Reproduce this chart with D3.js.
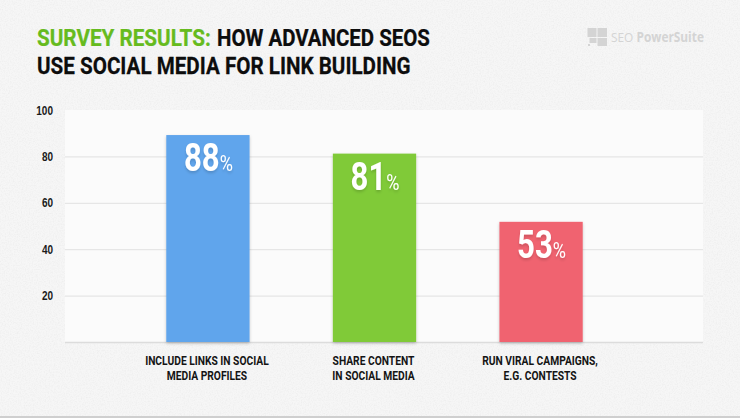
<!DOCTYPE html>
<html>
<head>
<meta charset="utf-8">
<script src="https://cdn.jsdelivr.net/npm/d3@7"></script>
<style>
    html, body { margin: 0; padding: 0; background: #f4f4f4; overflow: hidden; }
    svg { display: block; font-family: Roboto, sans-serif; }
    .y-axis text { font-size: 12.5px; font-weight: 700; fill: #1a1a1a; }
    .y-axis line { stroke: #e6e6e6; stroke-width: 1.2px; }
    .y-axis .domain { display: none; }
</style>
</head>
<body>
<script>
const categories = [
    ["INCLUDE LINKS IN SOCIAL", "MEDIA PROFILES"],
    ["SHARE CONTENT", "IN SOCIAL MEDIA"],
    ["RUN VIRAL CAMPAIGNS,", "E.G. CONTESTS"]
];
// bar heights as drawn in the picture differ slightly from the printed labels
const barValues = [89.2, 81.2, 51.8];
const valueLabels = ["88", "81", "53"];
const barColors = ["#60a5ec", "#80ca39", "#f06470"];
const yTicks = [20, 40, 60, 80, 100];

const width = 740;
const height = 418;
const plot = { left: 65, right: 703, top: 110, bottom: 342 };

const svg = d3.select("body").append("svg")
    .attr("width", width)
    .attr("height", height);

const defs = svg.append("defs");

// paper texture of the slide background
const paper = defs.append("filter").attr("id", "paper")
    .attr("x", 0).attr("y", 0).attr("width", "100%").attr("height", "100%");
paper.append("feTurbulence")
    .attr("type", "fractalNoise")
    .attr("baseFrequency", 0.75)
    .attr("numOctaves", 3)
    .attr("seed", 4);
paper.append("feColorMatrix")
    .attr("values", "0 0 0 0 0.7  0 0 0 0 0.7  0 0 0 0 0.7  0.6 0 0 0 -0.24");

const barShadow = defs.append("filter").attr("id", "bar-shadow")
    .attr("x", "-10%").attr("y", "-10%").attr("width", "120%").attr("height", "120%");
barShadow.append("feDropShadow")
    .attr("dx", 0).attr("dy", 1.5).attr("stdDeviation", 1.5)
    .attr("flood-color", "#000").attr("flood-opacity", 0.22);

const labelShadow = defs.append("filter").attr("id", "label-shadow")
    .attr("x", "-20%").attr("y", "-20%").attr("width", "140%").attr("height", "150%");
labelShadow.append("feDropShadow")
    .attr("dx", 0).attr("dy", 2).attr("stdDeviation", 1.5)
    .attr("flood-color", "#000").attr("flood-opacity", 0.16);

// Squeeze Roboto to look like the condensed face of the original
function condense(selection, factor) {
    selection.each(function () {
        const natural = this.getComputedTextLength();
        d3.select(this)
            .attr("textLength", natural * factor)
            .attr("lengthAdjust", "spacingAndGlyphs");
    });
}

svg.append("rect")
    .attr("width", width).attr("height", height)
    .attr("fill", "#f6f6f6");
svg.append("rect")
    .attr("width", width).attr("height", height)
    .attr("filter", "url(#paper)");

// bottom edge of the slide
svg.append("rect")
    .attr("x", 0).attr("y", 416)
    .attr("width", width).attr("height", 2)
    .attr("fill", "#cfcfcf");

// Title
const titleParts = [
    { text: "SURVEY RESULTS:", x: 37, y: 46, length: 174, color: "#66bb1e" },
    { text: "HOW ADVANCED SEOS", x: 217, y: 46, length: 213, color: "#0d0d0d" },
    { text: "USE SOCIAL MEDIA FOR LINK BUILDING", x: 37, y: 74, length: 374, color: "#0d0d0d" }
];
svg.append("g").selectAll("text")
    .data(titleParts)
    .join("text")
    .attr("fill", d => d.color)
    .attr("stroke", d => d.color)
    .attr("stroke-width", 0.25)
    .style("font-size", "24.5px")
    .style("font-weight", 700)
    .text(d => d.text)
    .attr("transform", function (d) {
        return `translate(${d.x},${d.y}) scale(${d.length / this.getComputedTextLength()},1)`;
    });

// Logo
const logo = svg.append("g").attr("fill", "#d4d4d4");
[[587.5, 28, 9, 9], [597.5, 28, 9.5, 9], [589.5, 38, 7, 5], [597.5, 38, 9.5, 8], [588, 44, 2, 2]]
    .forEach(r => logo.append("rect")
        .attr("x", r[0]).attr("y", r[1]).attr("width", r[2]).attr("height", r[3]));
const logoText = logo.append("text")
    .style("font-family", "'Open Sans', sans-serif")
    .style("font-size", "13.5px");
logoText.append("tspan").style("font-weight", 400).text("SEO ");
logoText.append("tspan").style("font-weight", 700).text("PowerSuite");
logoText.attr("transform", `translate(611,42) scale(${93 / logoText.node().getComputedTextLength()},1)`);

// Plot panel
svg.append("rect")
    .attr("x", plot.left).attr("y", plot.top)
    .attr("width", plot.right - plot.left).attr("height", plot.bottom - plot.top)
    .attr("fill", "#fbfbfb");
svg.append("line")
    .attr("x1", plot.left).attr("x2", plot.right)
    .attr("y1", plot.bottom + 0.5).attr("y2", plot.bottom + 0.5)
    .attr("stroke", "#dcdcdc").attr("stroke-width", 1.5);

const yScale = d3.scaleLinear().domain([0, 100]).range([plot.bottom, plot.top]);
const xScale = d3.scaleBand()
    .domain(d3.range(categories.length))
    .range([83, 666])
    .padding(0.5);

const yAxis = svg.append("g")
    .attr("class", "y-axis")
    .attr("transform", `translate(${plot.left},0)`)
    .call(d3.axisLeft(yScale)
        .tickValues(yTicks)
        .tickSize(-(plot.right - plot.left))
        .tickPadding(12));
yAxis.selectAll(".tick").filter(d => d === 100).select("line").remove();
yAxis.selectAll(".tick text").call(condense, 0.8);

// Bars
svg.append("g").selectAll("rect")
    .data(barValues)
    .join("rect")
    .attr("x", (d, i) => xScale(i))
    .attr("y", d => yScale(d))
    .attr("width", xScale.bandwidth())
    .attr("height", d => yScale(0) - yScale(d))
    .attr("fill", (d, i) => barColors[i])
    .attr("filter", "url(#bar-shadow)");

// Value labels inside the bars, number and percent sign in one text
const valueText = svg.append("g").selectAll("text")
    .data(barValues)
    .join("text")
    .attr("filter", "url(#label-shadow)")
    .attr("fill", "#fff")
    .attr("text-anchor", "middle")
    .attr("transform", (d, i) => `translate(${xScale(i) + xScale.bandwidth() / 2 + 0.5},${yScale(d) + 36}) scale(0.82,1)`);
valueText.append("tspan")
    .style("font-size", "38px")
    .style("font-weight", 700)
    .text((d, i) => valueLabels[i]);
valueText.append("tspan")
    .style("font-size", "22px")
    .style("font-weight", 400)
    .text("%");

// Category labels, one text per line
const catGroups = svg.append("g").selectAll("g")
    .data(categories)
    .join("g")
    .attr("transform", (d, i) => `translate(${xScale(i) + xScale.bandwidth() / 2 - 1},0)`);
catGroups.selectAll("text")
    .data(d => d)
    .join("text")
    .attr("text-anchor", "middle")
    .attr("y", (d, j) => 365 + j * 15)
    .attr("fill", "#141414")
    .style("font-size", "12.5px")
    .style("font-weight", 700)
    .text(d => d)
    .call(condense, 0.82);
</script>
</body>
</html>
